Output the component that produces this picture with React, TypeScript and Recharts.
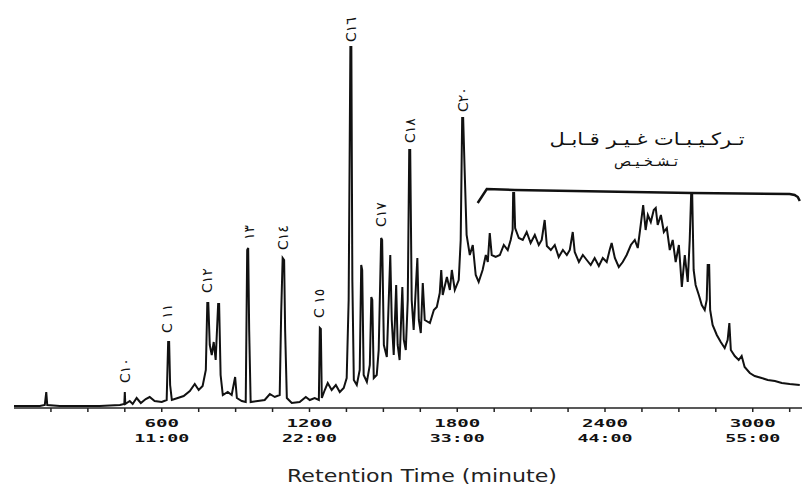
import React from 'react';
import { LineChart, Line, XAxis, YAxis, ReferenceDot } from 'recharts';

// retention (s) / detector signal in segments
const earlyT = [0, 105, 125, 131, 135, 186, 348, 430, 448, 450, 452, 470, 482, 498, 515, 535, 551, 571, 600, 620, 626, 630, 634, 641, 665, 689];
const earlyV = [2, 2, 3, 16, 3, 2, 2, 3, 4, 16, 4, 7, 4, 10, 5, 9, 11, 7, 6, 8, 66, 66, 23, 8, 10, 12];

const midT = [714, 734, 750, 766, 779, 785, 789, 795, 803, 811, 819, 829, 833, 839, 848, 868, 884, 898, 905, 925, 941, 947, 951, 955, 961, 990, 1018, 1039, 1059, 1079, 1085, 1091, 1097, 1101, 1108, 1128, 1160, 1185, 1201, 1221, 1238, 1242, 1246, 1250, 1262, 1274, 1290, 1307, 1323, 1339, 1351];
const midV = [17, 24, 18, 22, 38, 105, 105, 63, 53, 66, 48, 104, 104, 33, 13, 16, 13, 31, 10, 7, 6, 158, 160, 78, 6, 7, 8, 14, 11, 13, 95, 150, 148, 78, 10, 5, 6, 11, 8, 10, 8, 80, 79, 10, 18, 25, 18, 23, 16, 20, 30];

const clusterT = [1359, 1366, 1370, 1374, 1380, 1392, 1404, 1410, 1414, 1420, 1433, 1445, 1451, 1455, 1461, 1473, 1481, 1491, 1495, 1502, 1514, 1528, 1534, 1542, 1552, 1558, 1566, 1577, 1583, 1591, 1599, 1605, 1609, 1615, 1623, 1638, 1644, 1652, 1660, 1668, 1689, 1705, 1717, 1729, 1735, 1741, 1758, 1770, 1778, 1790, 1806, 1814, 1820, 1824, 1830, 1838, 1851];
const clusterV = [108, 361, 361, 128, 28, 23, 38, 143, 138, 33, 26, 43, 111, 108, 30, 33, 58, 170, 168, 63, 51, 153, 88, 53, 123, 63, 48, 121, 68, 58, 108, 258, 258, 108, 78, 150, 88, 75, 125, 88, 85, 98, 101, 115, 138, 113, 131, 118, 138, 118, 128, 168, 290, 290, 238, 173, 153];

const humpT = [1863, 1875, 1887, 1903, 1916, 1924, 1932, 1940, 1956, 1973, 1989, 2005, 2017, 2025, 2027, 2031, 2035, 2050, 2066, 2082, 2098, 2115, 2131, 2143, 2155, 2164, 2180, 2196, 2212, 2229, 2245, 2257, 2269, 2277, 2294, 2310, 2326, 2342, 2358, 2375, 2391, 2407, 2419, 2427, 2440, 2456, 2472, 2488, 2505, 2521, 2533, 2545, 2555, 2565, 2574, 2586, 2598, 2606, 2614, 2627, 2639, 2651, 2663, 2675, 2687, 2700, 2712, 2724, 2736, 2744, 2750, 2754];
const humpV = [163, 133, 126, 138, 153, 146, 175, 153, 151, 153, 163, 158, 168, 178, 215, 215, 180, 170, 168, 176, 165, 173, 163, 168, 188, 162, 158, 163, 151, 158, 153, 158, 176, 156, 146, 153, 148, 143, 150, 142, 150, 146, 158, 165, 150, 141, 146, 153, 163, 168, 160, 183, 203, 178, 193, 186, 198, 200, 183, 193, 176, 180, 158, 168, 146, 163, 121, 153, 126, 168, 215, 215];

const tailT = [2760, 2768, 2781, 2793, 2805, 2813, 2817, 2823, 2827, 2837, 2854, 2870, 2886, 2898, 2905, 2911, 2927, 2943, 2955, 2967, 2988, 3008, 3036, 3061, 3090, 3118, 3150, 3191];
const tailV = [138, 123, 113, 103, 98, 108, 143, 143, 98, 83, 73, 66, 60, 68, 85, 58, 52, 48, 52, 41, 35, 32, 30, 28, 27, 25, 24, 23];

// bracket over the unresolved hump
const bracketT = [1883, 1920, 2033, 2752, 3150, 3170, 3183, 3191];
const bracketV = [205, 219, 218, 215, 214, 213, 211, 207];

// peak labels: name, retention, signal level at the label foot
const peakNames = ['C١٠', 'C ١١', 'C١٢', '١٣', 'C١٤', 'C ١٥', 'C١٦', 'C١٧', 'C١٨', 'C٢٠'];
const peakT = [450, 620, 782, 953, 1091, 1237, 1368, 1489, 1607, 1822];
const peakV = [25, 75, 115, 168, 158, 90, 366, 181, 265, 296];

const tickValues = [150, 300, 450, 600, 750, 900, 1050, 1200, 1350, 1500, 1650, 1800, 1950, 2100, 2250, 2400, 2550, 2700, 2850, 3000, 3150];
const majorTicks = [600, 1200, 1800, 2400, 3000];
const clockLabels = ['11:00', '22:00', '33:00', '44:00', '55:00'];

const zip = (t: number[], v: number[]) => t.map((x, i) => ({ t: x, v: v[i] }));

const trace = [
  ...zip(earlyT, earlyV),
  ...zip(midT, midV),
  ...zip(clusterT, clusterV),
  ...zip(humpT, humpV),
  ...zip(tailT, tailV),
];
const bracket = zip(bracketT, bracketV);

const TimeTick = (props: any) => {
  const { x, y, payload } = props;
  const idx = majorTicks.indexOf(payload.value);
  if (idx < 0) return null;
  const top = String(payload.value);
  const bottom = clockLabels[idx];
  return (
    <g fontFamily="'DejaVu Sans Mono', monospace" fontWeight="bold" fontSize={11} fill="#111">
      <text x={x} y={y + 9} textAnchor="middle" dominantBaseline="central"
        textLength={top.length * 11.5} lengthAdjust="spacingAndGlyphs">{top}</text>
      <text x={x} y={y + 24} textAnchor="middle" dominantBaseline="central"
        textLength={bottom.length * 11} lengthAdjust="spacingAndGlyphs">{bottom}</text>
    </g>
  );
};

const peakLabel = (name: string) => (p: any) => (
  <text
    x={p.cx}
    y={p.cy}
    transform={`rotate(-90, ${p.cx}, ${p.cy})`}
    textAnchor="start"
    dominantBaseline="central"
    fontFamily="'DejaVu Sans', sans-serif"
    fontSize={14}
    fill="#111"
  >
    {name}
  </text>
);

export default function App() {
  return (
    <div style={{ position: 'relative', width: 802, height: 488, background: '#fff' }}>
      <style>{'body{margin:0}'}</style>
      <LineChart width={802} height={488} data={trace} margin={{ top: 8, right: 0, left: 14, bottom: 40 }}>
        <XAxis
          dataKey="t"
          type="number"
          domain={[0, 3200]}
          ticks={tickValues}
          interval={0}
          tick={<TimeTick />}
          tickSize={4}
          tickMargin={2}
          height={40}
          stroke="#222"
          strokeWidth={1.5}
          allowDataOverflow
        />
        <YAxis hide width={0} domain={[0, 400]} />
        <Line
          type="linear"
          dataKey="v"
          stroke="#111"
          strokeWidth={2}
          dot={false}
          isAnimationActive={false}
        />
        <Line
          data={bracket}
          type="linear"
          dataKey="v"
          stroke="#111"
          strokeWidth={2.5}
          dot={false}
          isAnimationActive={false}
        />
        {peakNames.map((name, i) => (
          <ReferenceDot
            key={name}
            x={peakT[i]}
            y={peakV[i]}
            r={0}
            ifOverflow="visible"
            shape={peakLabel(name)}
          />
        ))}
      </LineChart>
      <svg width={802} height={488} style={{ position: 'absolute', left: 0, top: 0, pointerEvents: 'none' }}>
        <text x={647} y={139} textAnchor="middle" dominantBaseline="central" fontFamily="'DejaVu Sans', sans-serif"
          fontSize={17} fill="#111" direction="rtl" textLength={195} lengthAdjust="spacingAndGlyphs">
          تـركـيـبـات غـيـر قـابـل
        </text>
        <text x={646} y={161} textAnchor="middle" dominantBaseline="central" fontFamily="'DejaVu Sans', sans-serif"
          fontSize={14} fill="#111" direction="rtl" textLength={64} lengthAdjust="spacingAndGlyphs">
          تـشـخـيـص
        </text>
        <text x={422} y={476} textAnchor="middle" dominantBaseline="central" fontFamily="'DejaVu Sans', sans-serif"
          fontSize={17} fill="#222" textLength={270} lengthAdjust="spacingAndGlyphs">
          Retention Time (minute)
        </text>
      </svg>
    </div>
  );
}
